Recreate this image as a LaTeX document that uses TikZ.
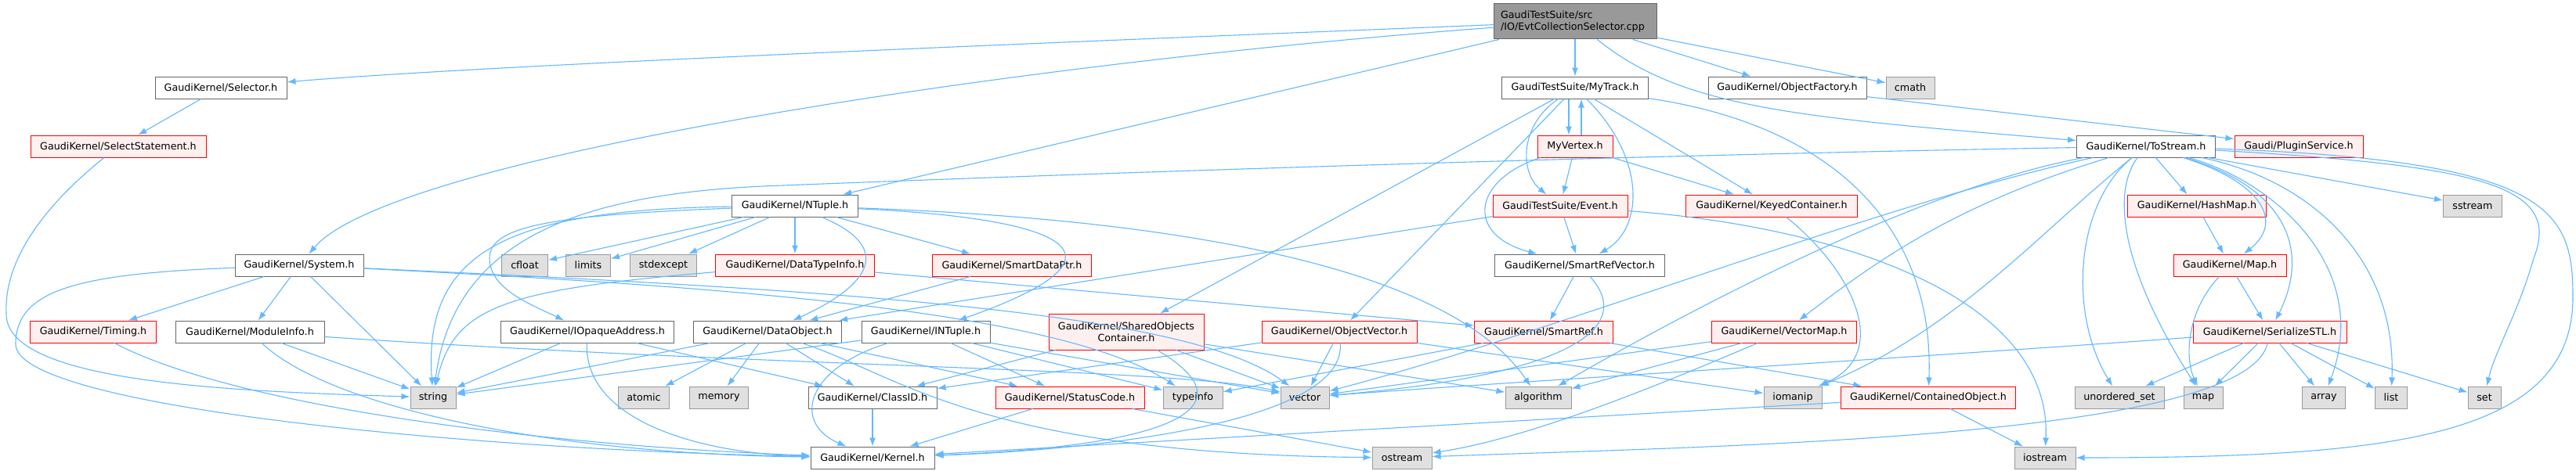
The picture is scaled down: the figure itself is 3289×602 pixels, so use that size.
\documentclass[tikz,border=0pt]{standalone}
\usepackage{fontspec}
\setmainfont{DejaVu Sans}
\usetikzlibrary{arrows.meta}
\definecolor{edgec}{HTML}{63B8FF}
\definecolor{redb}{HTML}{FF0000}
\definecolor{redf}{HTML}{FFF0F0}
\definecolor{grayb}{HTML}{999999}
\definecolor{grayf}{HTML}{E0E0E0}
\definecolor{darkb}{HTML}{666666}
\definecolor{rootf}{HTML}{999999}
\tikzset{
  box/.style={draw, line width=1pt, minimum height=28pt, inner sep=0pt, font=\fontsize{12.7}{15}\selectfont, text=black},
  wbox/.style={box, draw=darkb, fill=white},
  rbox/.style={box, draw=redb, fill=redf},
  gbox/.style={box, draw=grayb, fill=grayf},
  rootbox/.style={box, draw=darkb, fill=rootf, minimum height=45pt, align=left},
  e/.style={draw=edgec, line width=1.1pt, -{Latex[length=11pt,width=8pt]}},
}
\begin{document}
\begin{tikzpicture}[x=1pt,y=-1pt]
\fill[white] (0,0) rectangle (3289,602);
\useasboundingbox (0,0) rectangle (3289,602);
% nodes
\node[rootbox, minimum width=208pt, text width=190pt] (cpp) at (2011,27.5) {GaudiTestSuite/src\\/IO/EvtCollectionSelector.cpp};
\node[wbox, minimum width=168pt] (sel) at (282,112) {GaudiKernel/Selector.h};
\node[rbox, minimum width=224pt] (selst) at (151,187) {GaudiKernel/SelectStatement.h};
\node[wbox, minimum width=161pt] (ntuple) at (1015,263) {GaudiKernel/NTuple.h};
\node[wbox, minimum width=187pt] (mytrack) at (2011,112) {GaudiTestSuite/MyTrack.h};
\node[rbox, minimum width=96pt] (myvertex) at (2011,187) {MyVertex.h};
\node[rbox, minimum width=172pt] (event) at (1992,263) {GaudiTestSuite/Event.h};
\node[wbox, minimum width=202pt] (objfac) at (2282,112) {GaudiKernel/ObjectFactory.h};
\node[gbox, minimum width=62pt] (cmath) at (2439,112) {cmath};
\node[wbox, minimum width=177pt] (tostream) at (2740,187) {GaudiKernel/ToStream.h};
\node[rbox, minimum width=164pt] (plugin) at (2935,187) {Gaudi/PluginService.h};
\node[rbox, minimum width=219pt] (keyed) at (2262,263) {GaudiKernel/KeyedContainer.h};
\node[rbox, minimum width=177pt] (hashmap) at (2805,263) {GaudiKernel/HashMap.h};
\node[gbox, minimum width=75pt] (sstream) at (3157,263) {sstream};
\node[wbox, minimum width=164pt] (sys) at (382,339) {GaudiKernel/System.h};
\node[gbox, minimum width=59pt] (cfloat) at (670,339) {cfloat};
\node[gbox, minimum width=57pt] (limits) at (751,339) {limits};
\node[gbox, minimum width=85pt] (stdexcept) at (847,339) {stdexcept};
\node[rbox, minimum width=203pt] (datatype) at (1015,339) {GaudiKernel/DataTypeInfo.h};
\node[rbox, minimum width=203pt] (sdptr) at (1292,339) {GaudiKernel/SmartDataPtr.h};
\node[wbox, minimum width=217pt] (srv) at (2017,339) {GaudiKernel/SmartRefVector.h};
\node[rbox, minimum width=144pt] (map) at (2847,339) {GaudiKernel/Map.h};
\node[rbox, minimum width=161pt] (timing) at (119,424) {GaudiKernel/Timing.h};
\node[wbox, minimum width=190pt] (modinfo) at (319,424) {GaudiKernel/ModuleInfo.h};
\node[wbox, minimum width=221pt] (iopaque) at (750,424) {GaudiKernel/IOpaqueAddress.h};
\node[wbox, minimum width=189pt] (dataobj) at (980,424) {GaudiKernel/DataObject.h};
\node[wbox, minimum width=164pt] (intuple) at (1182,424) {GaudiKernel/INTuple.h};
\node[rbox, minimum width=198pt, minimum height=46pt, align=center] (shared) at (1438,424) {GaudiKernel/SharedObjects\\Container.h};
\node[rbox, minimum width=198pt] (objvec) at (1710,424) {GaudiKernel/ObjectVector.h};
\node[rbox, minimum width=177pt] (smartref) at (1971,424) {GaudiKernel/SmartRef.h};
\node[rbox, minimum width=185pt] (vecmap) at (2278,424) {GaudiKernel/VectorMap.h};
\node[rbox, minimum width=196pt] (serial) at (2898,424) {GaudiKernel/SerializeSTL.h};
\node[gbox, minimum width=58pt] (string) at (553,508) {string};
\node[gbox, minimum width=65pt] (atomic) at (822,508) {atomic};
\node[gbox, minimum width=75pt] (memory) at (918,508) {memory};
\node[wbox, minimum width=164pt] (classid) at (1114,508) {GaudiKernel/ClassID.h};
\node[rbox, minimum width=190pt] (status) at (1366,508) {GaudiKernel/StatusCode.h};
\node[gbox, minimum width=76pt] (typeinfo) at (1523,508) {typeinfo};
\node[gbox, minimum width=62pt] (vector) at (1666,508) {vector};
\node[gbox, minimum width=84pt] (algorithm) at (1964,508) {algorithm};
\node[gbox, minimum width=74pt] (iomanip) at (2289,508) {iomanip};
\node[rbox, minimum width=223pt] (contained) at (2462,508) {GaudiKernel/ContainedObject.h};
\node[gbox, minimum width=114pt] (uset) at (2706,508) {unordered\_set};
\node[gbox, minimum width=50pt] (mapstd) at (2813,508) {map};
\node[gbox, minimum width=55pt] (array) at (2967,508) {array};
\node[gbox, minimum width=41pt] (list) at (3053,508) {list};
\node[gbox, minimum width=42pt] (set) at (3172,508) {set};
\node[wbox, minimum width=158pt] (kernel) at (1114,585) {GaudiKernel/Kernel.h};
\node[gbox, minimum width=76pt] (ostream) at (1790,585) {ostream};
\node[gbox, minimum width=78pt] (iostream) at (2611,585) {iostream};

% edges from cpp
\draw[e] (cpp) .. controls (1200,60) and (600,85) .. (sel);
\draw[e] (cpp) .. controls (1300,80) and (500,200) .. (sys);
\draw[e] (cpp) -- (ntuple);
\draw[e] (cpp) -- (mytrack);
\draw[e] (cpp) .. controls (2150,140) and (2300,150) .. (tostream);
\draw[e] (cpp) -- (objfac);
\draw[e] (cpp) -- (cmath);
\draw[e] (sel) -- (selst);
\draw[e] (selst) .. controls (60,260) and (5,330) .. (8,400) .. controls (5,490) and (300,500) .. (string);
% MyTrack
\draw[e] ([xshift=-8pt]mytrack.south) -- ([xshift=-8pt]myvertex.north);
\draw[e] ([xshift=8pt]myvertex.north) -- ([xshift=8pt]mytrack.south);
\draw[e] (mytrack) .. controls (1940,160) and (1940,220) .. (event);
\draw[e] (mytrack) .. controls (2100,200) and (2100,290) .. (srv);
\draw[e] (mytrack) -- (keyed);
\draw[e] (mytrack) -- (shared);
\draw[e] (mytrack) -- (objvec);
\draw[e] (mytrack) .. controls (2340,160) and (2470,290) .. (contained);
\draw[e] (myvertex) -- (event);
\draw[e] (myvertex) -- (keyed);
\draw[e] (myvertex) .. controls (1880,230) and (1870,300) .. (srv);
\draw[e] (event) -- (dataobj);
\draw[e] (event) -- (srv);
\draw[e] (event) .. controls (2350,290) and (2620,380) .. (iostream);
\draw[e] (objfac) -- (plugin);
\draw[e] (keyed) .. controls (2360,340) and (2420,450) .. (iomanip);
% NTuple
\draw[e] (ntuple) .. controls (650,268) and (540,320) .. (string);
\draw[e] (ntuple) .. controls (700,275) and (625,290) .. (625,330) .. controls (625,370) and (680,390) .. (iopaque);
\draw[e] (ntuple) -- (cfloat);
\draw[e] (ntuple) -- (limits);
\draw[e] (ntuple) -- (stdexcept);
\draw[e] (ntuple) -- (datatype);
\draw[e] (ntuple) -- (sdptr);
\draw[e] (ntuple) .. controls (1150,320) and (1100,370) .. (dataobj);
\draw[e] (ntuple) .. controls (1380,280) and (1450,330) .. (intuple);
\draw[e] (ntuple) .. controls (1500,280) and (1850,340) .. (algorithm);
% System
\draw[e] (sys) -- (timing);
\draw[e] (sys) -- (modinfo);
\draw[e] (sys) -- (string);
\draw[e] (sys) .. controls (100,350) and (20,370) .. (20,440) .. controls (20,520) and (600,575) .. (kernel);
\draw[e] (sys) .. controls (900,365) and (1350,395) .. (typeinfo);
\draw[e] (sys) .. controls (1100,372) and (1520,400) .. (vector);
\draw[e] (timing) .. controls (300,520) and (700,570) .. (kernel);
\draw[e] (modinfo) -- (string);
\draw[e] (modinfo) .. controls (420,520) and (700,580) .. (kernel);
\draw[e] (modinfo) .. controls (1000,470) and (1500,470) .. (vector);
\draw[e] (datatype) .. controls (650,370) and (580,390) .. (string);
\draw[e] (datatype) -- (smartref);
\draw[e] (sdptr) -- (dataobj);
\draw[e] (iopaque) -- (string);
\draw[e] (iopaque) .. controls (745,540) and (900,580) .. (kernel);
\draw[e] (iopaque) -- (classid);
\draw[e] (dataobj) -- (string);
\draw[e] (dataobj) -- (atomic);
\draw[e] (dataobj) -- (memory);
\draw[e] (dataobj) -- (classid);
\draw[e] (dataobj) -- (status);
\draw[e] (dataobj) .. controls (1150,480) and (1250,580) .. (ostream);
\draw[e] (intuple) -- (string);
\draw[e] (intuple) .. controls (1030,470) and (1010,540) .. (kernel);
\draw[e] (intuple) -- (status);
\draw[e] (intuple) -- (typeinfo);
\draw[e] (intuple) -- (vector);
\draw[e] (shared) -- (classid);
\draw[e] (shared) .. controls (1600,520) and (1500,570) .. (kernel);
\draw[e] (shared) -- (vector);
\draw[e] (shared) -- (algorithm);
\draw[e] (objvec) -- (classid);
\draw[e] (objvec) .. controls (1720,540) and (1400,575) .. (kernel);
\draw[e] (objvec) -- (vector);
\draw[e] (objvec) -- (iomanip);
\draw[e] (smartref) -- (typeinfo);
\draw[e] (smartref) -- (contained);
\draw[e] (srv) -- (smartref);
\draw[e] (srv) .. controls (2090,420) and (2000,480) .. (vector);
\draw[e] (classid) -- (kernel);
\draw[e] (status) -- (kernel);
\draw[e] (status) -- (ostream);
\draw[e] (contained) -- (kernel);
\draw[e] (contained) -- (iostream);
% ToStream
\draw[e] (tostream) .. controls (2000,200) and (1300,225) .. (1000,237) .. controls (750,245) and (580,300) .. (string);
\draw[e] (tostream) -- (hashmap);
\draw[e] (tostream) .. controls (2880,230) and (2920,280) .. (map);
\draw[e] (tostream) .. controls (2920,240) and (2950,320) .. (serial);
\draw[e] (tostream) .. controls (2500,260) and (2400,330) .. (vecmap);
\draw[e] (tostream) -- (sstream);
\draw[e] (tostream) .. controls (3180,212) and (3270,240) .. (3235,330) .. controls (3215,400) and (3185,450) .. (set);
\draw[e] (tostream) .. controls (2950,230) and (3060,330) .. (list);
\draw[e] (tostream) .. controls (2900,230) and (3030,340) .. (array);
\draw[e] (tostream) .. controls (2700,240) and (2700,330) .. (mapstd);
\draw[e] (tostream) .. controls (2650,260) and (2640,400) .. (uset);
\draw[e] (tostream) .. controls (3260,205) and (3285,270) .. (3285,380) .. controls (3285,560) and (3050,585) .. (iostream);
\draw[e] (tostream) .. controls (2400,260) and (2000,420) .. (vector);
\draw[e] (tostream) .. controls (2450,240) and (2150,400) .. (algorithm);
\draw[e] (tostream) .. controls (2600,300) and (2500,420) .. (iomanip);
\draw[e] (hashmap) -- (map);
\draw[e] (map) .. controls (2790,400) and (2790,460) .. (mapstd);
\draw[e] (map) -- (serial);
\draw[e] (serial) -- (uset);
\draw[e] (serial) -- (mapstd);
\draw[e] (serial) -- (array);
\draw[e] (serial) -- (list);
\draw[e] (serial) -- (set);
\draw[e] (serial) .. controls (2870,560) and (2200,570) .. (ostream);
\draw[e] (serial) .. controls (2400,460) and (1900,490) .. (vector);
\draw[e] (vecmap) -- (vector);
\draw[e] (vecmap) -- (algorithm);
\draw[e] (vecmap) .. controls (2100,500) and (1950,560) .. (ostream);
\end{tikzpicture}
\end{document}
